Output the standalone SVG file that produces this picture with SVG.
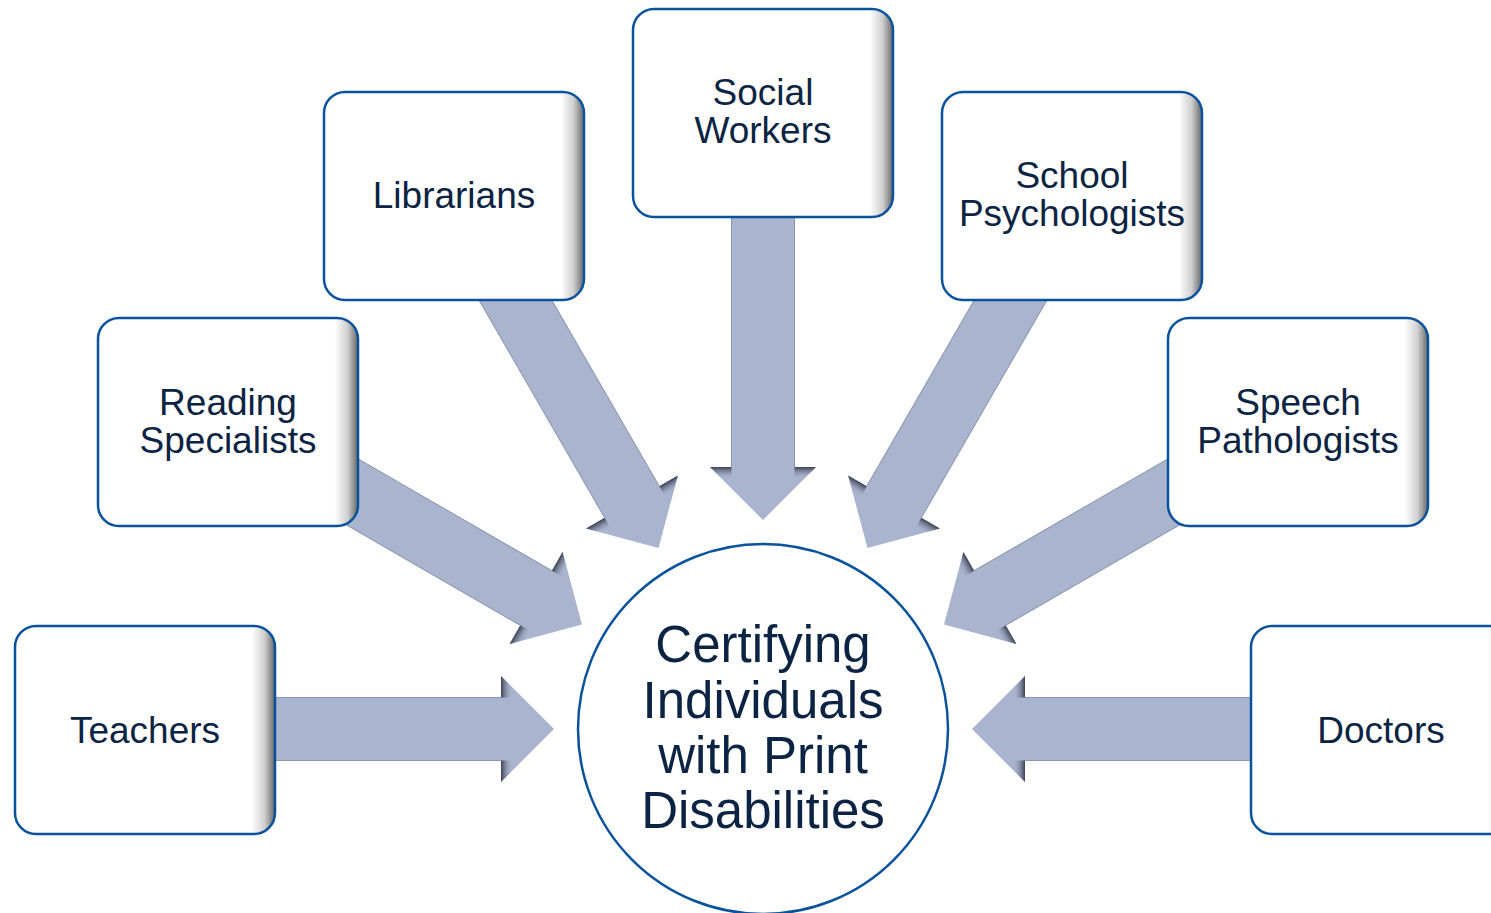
<svg xmlns="http://www.w3.org/2000/svg" width="1491" height="913" viewBox="0 0 1491 913">
  <defs>
    <linearGradient id="boxFill" x1="0" y1="0" x2="1" y2="0">
      <stop offset="0" stop-color="#ffffff"/>
      <stop offset="0.91" stop-color="#ffffff"/>
      <stop offset="0.96" stop-color="#cfcfcf"/>
      <stop offset="1" stop-color="#666666"/>
    </linearGradient>
    <linearGradient id="headShade" gradientUnits="userSpaceOnUse" x1="-53" y1="0" x2="-41" y2="0">
      <stop offset="0" stop-color="#353b4c" stop-opacity="0.95"/>
      <stop offset="1" stop-color="#a9b4cf" stop-opacity="0"/>
    </linearGradient>
    <g id="arrow">
      <polygon class="arr" points="0,0 -53,-53 -53,-31.5 -400,-31.5 -400,31.5 -53,31.5 -53,53"/>
      <polygon fill="url(#headShade)" points="-53,-53 -41,-41 -41,-31.5 -53,-31.5"/>
      <polygon fill="url(#headShade)" points="-53,53 -41,41 -41,31.5 -53,31.5"/>
      <line class="edge" x1="-400" y1="-31.5" x2="-53" y2="-31.5"/>
      <line class="edge" x1="-400" y1="31.5" x2="-53" y2="31.5"/>
    </g>
  </defs>
  <style>
    .arr { fill: #a9b4cf; }
    .edge { stroke: #8c96ae; stroke-width: 1; }
    .box { fill: url(#boxFill); stroke: #0a539c; stroke-width: 2.5; }
    .lbl { font-family: "Liberation Sans", Arial, sans-serif; font-size: 37px; fill: #0c2443; text-anchor: middle; }
    .ctr { font-family: "Liberation Sans", Arial, sans-serif; font-size: 51px; fill: #0c2443; text-anchor: middle; }
  </style>
  <rect width="1491" height="913" fill="#ffffff"/>

  <g id="connectors">
    <use href="#arrow" transform="translate(763,729) rotate(0) translate(-209,0)"/>
    <use href="#arrow" transform="translate(763,729) rotate(30) translate(-209,0)"/>
    <use href="#arrow" transform="translate(763,729) rotate(60) translate(-209,0)"/>
    <use href="#arrow" transform="translate(763,729) rotate(90) translate(-209,0)"/>
    <use href="#arrow" transform="translate(763,729) rotate(120) translate(-209,0)"/>
    <use href="#arrow" transform="translate(763,729) rotate(150) translate(-209,0)"/>
    <use href="#arrow" transform="translate(763,729) rotate(180) translate(-209,0)"/>
  </g>

  <g id="node-teachers">
    <rect class="box" x="15" y="626" width="260" height="208" rx="21"/>
    <text class="lbl" x="145" y="743">Teachers</text>
  </g>
  <g id="node-reading-specialists">
    <rect class="box" x="98" y="318" width="260" height="208" rx="21"/>
    <text class="lbl" x="228" y="415">Reading</text>
    <text class="lbl" x="228" y="453">Specialists</text>
  </g>
  <g id="node-librarians">
    <rect class="box" x="324" y="92" width="260" height="208" rx="21"/>
    <text class="lbl" x="454" y="208">Librarians</text>
  </g>
  <g id="node-social-workers">
    <rect class="box" x="633" y="9" width="260" height="208" rx="21"/>
    <text class="lbl" x="763" y="105">Social</text>
    <text class="lbl" x="763" y="143">Workers</text>
  </g>
  <g id="node-school-psychologists">
    <rect class="box" x="942" y="92" width="260" height="208" rx="21"/>
    <text class="lbl" x="1072" y="188">School</text>
    <text class="lbl" x="1072" y="226">Psychologists</text>
  </g>
  <g id="node-speech-pathologists">
    <rect class="box" x="1168" y="318" width="260" height="208" rx="21"/>
    <text class="lbl" x="1298" y="415">Speech</text>
    <text class="lbl" x="1298" y="453">Pathologists</text>
  </g>
  <g id="node-doctors">
    <rect class="box" x="1251" y="626" width="260" height="208" rx="21"/>
    <text class="lbl" x="1381" y="743">Doctors</text>
  </g>

  <g id="node-center">
    <circle cx="763" cy="729" r="185" fill="#ffffff" stroke="#0a539c" stroke-width="2.5"/>
    <text class="ctr" x="763" y="662">Certifying</text>
    <text class="ctr" x="763" y="718">Individuals</text>
    <text class="ctr" x="763" y="773">with Print</text>
    <text class="ctr" x="763" y="828">Disabilities</text>
  </g>
</svg>
